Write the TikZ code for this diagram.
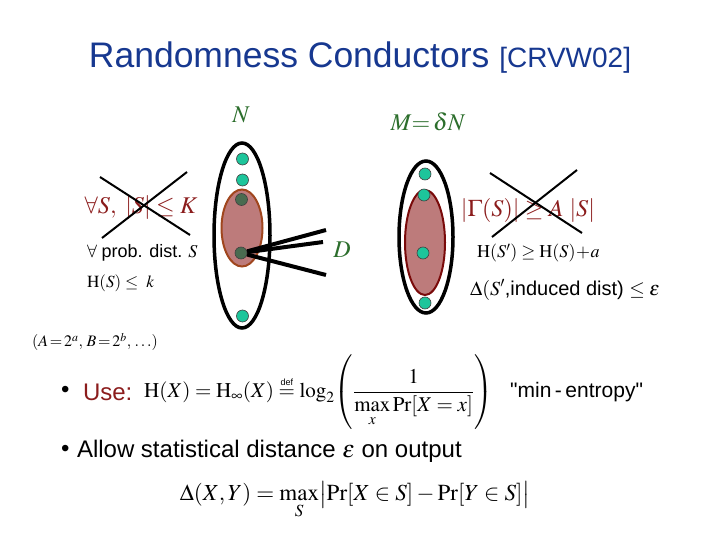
\documentclass[tikz,border=0pt]{standalone}
\usepackage{amsmath}
\usepackage{mathptmx}
\usepackage{fontspec}
\setmainfont{Liberation Serif}
\setsansfont{Liberation Sans}
\usepackage{tikz}
\usetikzlibrary{shapes.geometric, positioning, calc}
\definecolor{titleblue}{HTML}{173890}
\definecolor{lblgreen}{HTML}{2C6E2C}
\definecolor{condred}{HTML}{8B1C1C}
\definecolor{dotgreen}{HTML}{1DC59B}
\definecolor{dotdark}{HTML}{4A6B50}
\definecolor{setfill}{HTML}{BD7B7B}
\definecolor{setbrown}{HTML}{A0461E}
\definecolor{setred}{HTML}{7A0A0A}

\begin{document}
\begin{tikzpicture}[
  x=1pt, y=-1pt,
  dot/.style={circle, draw=black!75, line width=0.6pt, fill=dotgreen, minimum size=12pt, inner sep=0pt},
  dotin/.style={dot, fill=dotdark},
  outerset/.style={ellipse, draw, line width=3.5pt, inner sep=0pt},
  innerset/.style={ellipse, fill=setfill, line width=2pt, inner sep=0pt},
  setlbl/.style={text=lblgreen, font=\fontsize{24}{28}\selectfont},
  cond/.style={text=condred, font=\fontsize{24}{28}\selectfont},
  txt/.style={anchor=west, inner sep=0pt, font=\fontsize{18}{22}\selectfont},
  sftxt/.style={anchor=west, inner sep=0pt, font=\sffamily\fontsize{24}{28}\selectfont},
  cross/.style={line width=2pt},
  fan/.style={line width=4pt},
]
\useasboundingbox (0,0) rectangle (720,540);

% Title
\node[text=titleblue, font=\sffamily\fontsize{35.5}{40}\selectfont] (title) at (360,58)
  {Randomness Conductors {\fontsize{28}{32}\selectfont[CRVW02]}};

% Left set (N)
\node[setlbl] (lblN) at (241,115) {$N$};
\node[outerset, minimum width=56pt, minimum height=185pt] (setN) at (242,235.5) {};
\node[innerset, draw=setbrown, minimum width=41pt, minimum height=77pt] (subS) at (242,228) {};
\node[dot] (n1) at (242.5,159) {};
\node[dot] (n2) at (242.5,180) {};
\node[dotin] (n3) at (241.5,199.5) {};
\node[dotin] (n4) at (241,253) {};
\node[dot] (n5) at (242.5,316) {};

% Right set (M)
\node[setlbl] (lblM) at (428,122) {$M\!\!=\!\delta N$};
\node[outerset, minimum width=54pt, minimum height=152pt] (setM) at (426,237) {};
\node[innerset, draw=setred, minimum width=40pt, minimum height=105pt] (gamS) at (425,242.5) {};
\node[dot] (m1) at (425,174) {};
\node[dot] (m2) at (424,195) {};
\node[dot] (m3) at (423,253) {};
\node[dot] (m4) at (425,303) {};

% Edges of degree D
\coordinate (fanA) at (326,230);
\coordinate (fanB) at (323,242);
\coordinate (fanC) at (326,275);
\draw[fan] (n4) -- (fanA);
\draw[fan] (n4) -- (fanB);
\draw[fan] (n4) -- (fanC);
\node[setlbl] (lblD) at (342,250) {$D$};

% Left conditions
\node[cond] (condL) at (141,208) {$\forall S,\ |S|\leq K$};
\coordinate (xl1) at (100,177);
\coordinate (xl2) at (190,235);
\coordinate (xl3) at (187,172);
\coordinate (xl4) at (102,238);
\draw[cross] (xl1) -- (xl2);
\draw[cross] (xl3) -- (xl4);
\node[txt, font=\fontsize{18}{22}\selectfont] (probS) at (87,253) {$\forall$ \textsf{prob. dist.} $S$};
\node[txt, font=\fontsize{17}{20}\selectfont] (entS) at (87,283) {$\mathrm{H}(S)\leq\ k$};
\node[txt, font=\fontsize{16}{20}\selectfont] (powers) at (32,342) {$(A\!=\!2^a,\,B\!=\!2^b,\,\ldots)$};

% Right conditions
\node[cond] (condR) at (528,210) {$|\Gamma(S)|\geq A\ |S|$};
\coordinate (xr1) at (490,173);
\coordinate (xr2) at (582,233);
\coordinate (xr3) at (577,170);
\coordinate (xr4) at (492,237);
\draw[cross] (xr1) -- (xr2);
\draw[cross] (xr3) -- (xr4);
\node[txt] (entSp) at (477,253) {$\mathrm{H}(S')\geq\mathrm{H}(S)\!+\!a$};
\node[sftxt, font=\sffamily\fontsize{20}{24}\selectfont] (dist) at (470,290) {$\Delta(S'$,induced dist) $\leq\epsilon$};

% Bullets
\node[sftxt] (bulUse) at (61,392) {\textbullet};
\node[sftxt, text=condred, right=13pt of bulUse.east, anchor=west] (use) {Use:};
\node[txt, font=\fontsize{21}{25}\selectfont] (minent) at (144,392)
  {$\displaystyle \mathrm{H}(X)=\mathrm{H}_\infty(X)\overset{\textsf{\fontsize{9}{10}\selectfont def}}{=}\log_2\!\left(\frac{1}{\max\limits_x \Pr[X=x]}\right)$};
\node[sftxt, font=\sffamily\fontsize{21}{25}\selectfont] (minlbl) at (510,392)
  {\addfontfeature{Ligatures=TeXOff}"min\,-\,entropy"};
\node[sftxt] (bulAllow) at (61,451) {\textbullet};
\node[sftxt, right=7pt of bulAllow.east, anchor=west] (allow) {Allow statistical distance $\epsilon$ on output};
\node[font=\fontsize{23}{27}\selectfont] (statd) at (355,500)
  {$\displaystyle \Delta(X,Y)=\max_S\bigl|\Pr[X\in S]-\Pr[Y\in S]\bigr|$};

\end{tikzpicture}
\end{document}
